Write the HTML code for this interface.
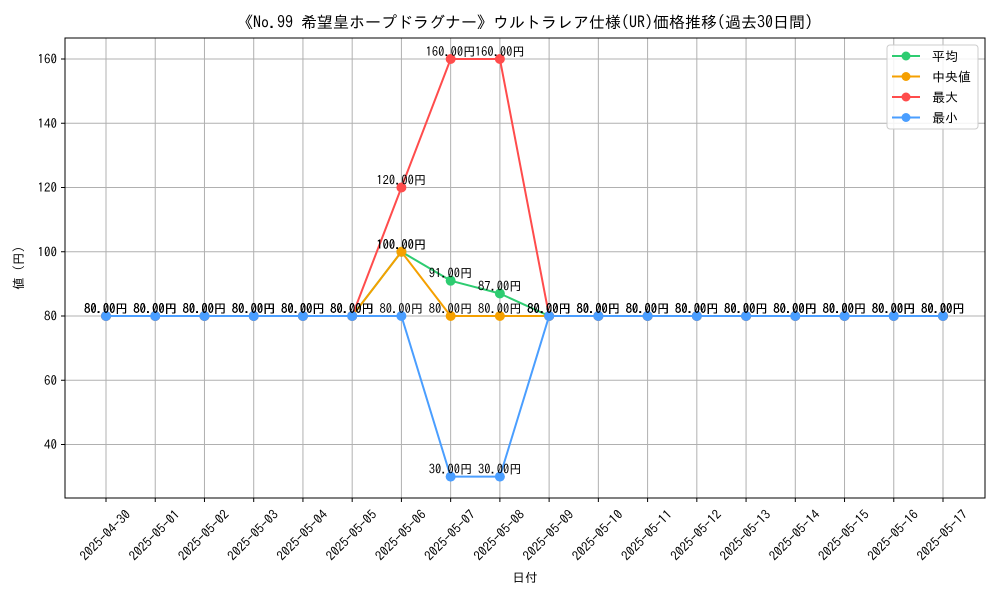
<!DOCTYPE html>
<html><head><meta charset="utf-8"><style>
body{margin:0;background:#fff;width:1000px;height:600px;overflow:hidden}
text{font-family:"IPAGothic","Liberation Sans",sans-serif}
</style></head><body>
<svg id="c" width="1000" height="600" xmlns="http://www.w3.org/2000/svg">
<text x="525" y="28" font-size="16" text-anchor="middle">《No.99 希望皇ホープドラグナー》ウルトラレア仕様(UR)価格推移(過去30日間)</text>
<g id="grid"></g><g id="axes"></g><g id="series"></g><g id="labels"></g>
<rect x="65" y="38" width="920" height="460" fill="none" stroke="#000" stroke-width="1"/>
<text x="525" y="582" font-size="12.5" text-anchor="middle">日付</text>
<text x="23" y="268" font-size="12.5" text-anchor="middle" transform="rotate(-90 23 268)">値 (円)</text>
<g id="legend"></g>
</svg>
<script>
const dates=["2025-04-30","2025-05-01","2025-05-02","2025-05-03","2025-05-04","2025-05-05","2025-05-06","2025-05-07","2025-05-08","2025-05-09","2025-05-10","2025-05-11","2025-05-12","2025-05-13","2025-05-14","2025-05-15","2025-05-16","2025-05-17"];
const avgVals=[80,80,80,80,80,80,100,91,87,80,80,80,80,80,80,80,80,80];
const medVals=[80,80,80,80,80,80,100,80,80,80,80,80,80,80,80,80,80,80];
const maxVals=[80,80,80,80,80,80,120,160,160,80,80,80,80,80,80,80,80,80];
const minVals=[80,80,80,80,80,80,80,30,30,80,80,80,80,80,80,80,80,80];
const yTicks=[40,60,80,100,120,140,160];
const seriesNames=["平均","中央値","最大","最小"];
const NS="http://www.w3.org/2000/svg";
const X=i=>106+i*(943-106)/17;
const Y=v=>316-(v-80)*(257/80);
function mk(tag,attrs,parent,txt){const e=document.createElementNS(NS,tag);for(const k in attrs)e.setAttribute(k,attrs[k]);if(txt!==undefined)e.textContent=txt;parent.appendChild(e);return e;}
const grid=document.getElementById('grid'),axes=document.getElementById('axes');
dates.forEach((d,i)=>{
 const l=mk('line',{x1:X(i),x2:X(i),y1:38,y2:498,stroke:'#b0b0b0','stroke-width':1},grid);
 
 
 mk('line',{x1:X(i),x2:X(i),y1:498,y2:502,stroke:'#000'},axes);
 const t=mk('text',{x:X(i),y:536,'font-size':13,'text-anchor':'middle','dominant-baseline':'middle',transform:`rotate(-45 ${X(i)} 536)`},axes,d);
 
 
});
yTicks.forEach(v=>{
 const l=mk('line',{x1:65,x2:985,y1:Y(v),y2:Y(v),stroke:'#b0b0b0','stroke-width':1},grid);
 
 
 mk('line',{x1:61,x2:65,y1:Y(v),y2:Y(v),stroke:'#000'},axes);
 const t=mk('text',{x:57,y:Y(v)+4.5,'font-size':13,'text-anchor':'end'},axes,v);
 
 
});
const colors=["#2ecc71","#f5a000","#ff4c4c","#4a9eff"];
const all=[avgVals,medVals,maxVals,minVals];
const sg=document.getElementById('series'),lg=document.getElementById('labels');
all.forEach((vals,s)=>{
 const p=mk('polyline',{points:vals.map((v,i)=>X(i)+','+Y(v)).join(' '),fill:'none',stroke:colors[s],'stroke-width':2},sg);
 
 
 vals.forEach((v,i)=>{
  const c=mk('circle',{cx:X(i),cy:Y(v),r:5,fill:colors[s]},sg);
  
  
  const t=mk('text',{x:X(i),y:Y(v)-3,'font-size':12.5,'text-anchor':'middle'},lg,v.toFixed(2)+'円');
  
  
 });
});
const leg=document.getElementById('legend');
const box=mk('rect',{x:887,y:45,width:91,height:84,rx:3,fill:'#fff','fill-opacity':0.85,stroke:'#ccc'},leg);


seriesNames.forEach((n,s)=>{
 const y=56+s*20.5;
 mk('line',{x1:892,x2:920,y1:y,y2:y,stroke:colors[s],'stroke-width':2},leg);
 mk('circle',{cx:906,cy:y,r:4.5,fill:colors[s]},leg);
 const t=mk('text',{x:932,y:y+5,'font-size':13},leg,(s===1?' ':'')+n);
 
 
});
</script>
</body></html>
